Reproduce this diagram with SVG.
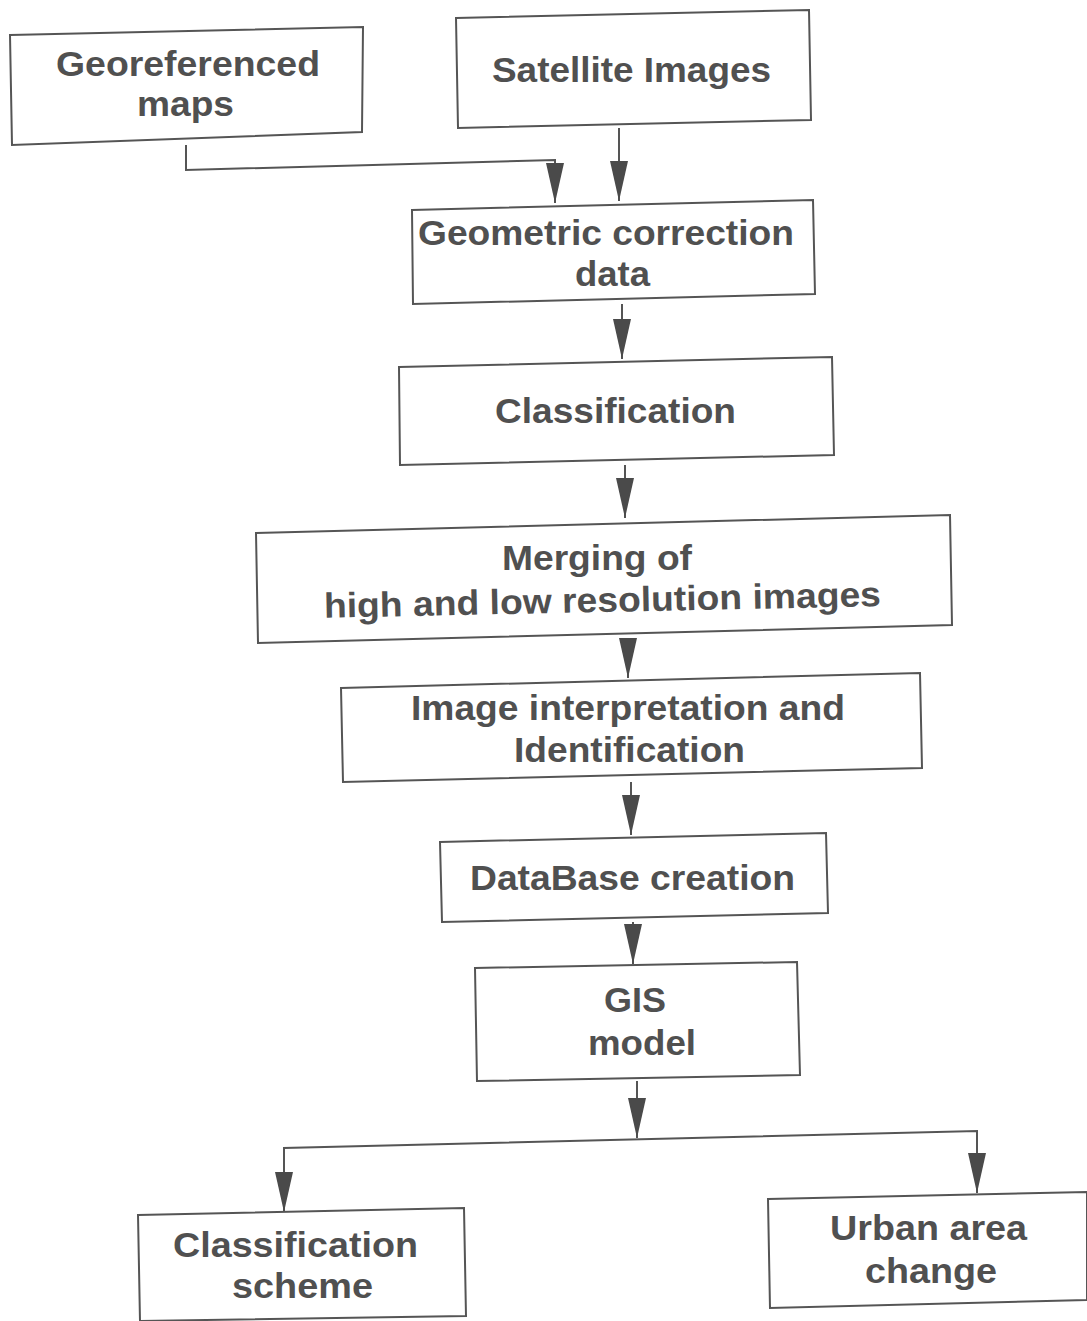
<svg xmlns="http://www.w3.org/2000/svg" width="1087" height="1321" viewBox="0 0 1087 1321">
<defs>
<style>
.box{fill:#fff;stroke:#555;stroke-width:2}
.t{font-family:"Liberation Sans",Arial,sans-serif;font-weight:bold;font-size:35px;fill:#505050}
.c{fill:none;stroke:#555;stroke-width:2}
</style>
<marker id="ad" markerUnits="userSpaceOnUse" markerWidth="40" markerHeight="18" refX="40" refY="9" orient="auto" viewBox="0 0 40 18">
<path d="M0,0 L40,9 L0,18 Z" fill="#4a4a4a"/>
</marker>
</defs>
<rect width="1087" height="1321" fill="#fff"/>
<g id="connectors">
<polyline class="c" points="186,145 186,170 555,160 555,203" marker-end="url(#ad)"/>
<line class="c" x1="619" y1="128" x2="619" y2="201" marker-end="url(#ad)"/>
<line class="c" x1="622" y1="304" x2="622" y2="359" marker-end="url(#ad)"/>
<line class="c" x1="625" y1="465" x2="625" y2="518" marker-end="url(#ad)"/>
<line class="c" x1="628" y1="643" x2="628" y2="678" marker-end="url(#ad)"/>
<line class="c" x1="631" y1="782" x2="631" y2="835" marker-end="url(#ad)"/>
<line class="c" x1="633" y1="922" x2="633" y2="964" marker-end="url(#ad)"/>
<line class="c" x1="637" y1="1081" x2="637" y2="1138" marker-end="url(#ad)"/>
<polyline class="c" points="284,1210 284,1148 977,1131 977,1193" />
<line class="c" x1="284" y1="1160" x2="284" y2="1212" marker-end="url(#ad)"/>
<line class="c" x1="977" y1="1140" x2="977" y2="1193" marker-end="url(#ad)"/>
</g>
<g id="n1"><polygon class="box" points="10,35 363,27 362,132 12,145"/>
<text class="t" x="56" y="76" textLength="264" lengthAdjust="spacingAndGlyphs">Georeferenced</text>
<text class="t" x="137" y="116" textLength="97" lengthAdjust="spacingAndGlyphs">maps</text></g>
<g id="n2"><polygon class="box" points="456,18 809,10 811,120 458,128"/>
<text class="t" x="492" y="82" textLength="279" lengthAdjust="spacingAndGlyphs">Satellite Images</text></g>
<g id="n3"><polygon class="box" points="412,210 813,200 815,294 413,304"/>
<text class="t" x="418" y="245" textLength="376" lengthAdjust="spacingAndGlyphs">Geometric correction</text>
<text class="t" x="575" y="286" textLength="75" lengthAdjust="spacingAndGlyphs">data</text></g>
<g id="n4"><polygon class="box" points="399,367 832,357 834,455 400,465"/>
<text class="t" x="495" y="423" textLength="241" lengthAdjust="spacingAndGlyphs">Classification</text></g>
<g id="n5"><polygon class="box" points="256,533 950,515 952,625 258,643"/>
<text class="t" x="502" y="570" textLength="190" lengthAdjust="spacingAndGlyphs">Merging of</text>
<text class="t" x="324" y="612" textLength="557" lengthAdjust="spacingAndGlyphs" transform="rotate(-1.2 603 605)">high and low resolution images</text></g>
<g id="n6"><polygon class="box" points="341,688 920,673 922,768 343,782"/>
<text class="t" x="411" y="720" textLength="434" lengthAdjust="spacingAndGlyphs">Image interpretation and</text>
<text class="t" x="514" y="762" textLength="231" lengthAdjust="spacingAndGlyphs">Identification</text></g>
<g id="n7"><polygon class="box" points="440,842 826,833 828,913 442,922"/>
<text class="t" x="470" y="890" textLength="325" lengthAdjust="spacingAndGlyphs">DataBase creation</text></g>
<g id="n8"><polygon class="box" points="475,968 797,962 800,1075 477,1081"/>
<text class="t" x="604" y="1012" textLength="62" lengthAdjust="spacingAndGlyphs">GIS</text>
<text class="t" x="588" y="1055" textLength="108" lengthAdjust="spacingAndGlyphs">model</text></g>
<g id="n9"><polygon class="box" points="138,1215 464,1208 466,1316 140,1321"/>
<text class="t" x="173" y="1257" textLength="245" lengthAdjust="spacingAndGlyphs">Classification</text>
<text class="t" x="232" y="1298" textLength="141" lengthAdjust="spacingAndGlyphs">scheme</text></g>
<g id="n10"><polygon class="box" points="768,1199 1087,1192 1087,1300 770,1308"/>
<text class="t" x="830" y="1240" textLength="197" lengthAdjust="spacingAndGlyphs">Urban area</text>
<text class="t" x="865" y="1283" textLength="132" lengthAdjust="spacingAndGlyphs">change</text></g>
</svg>
